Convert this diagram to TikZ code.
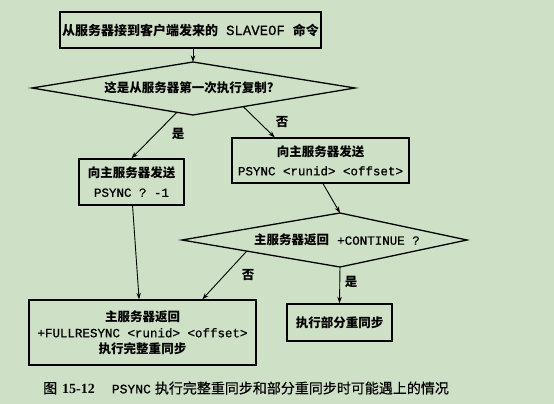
\documentclass[tikz,border=0pt]{standalone}
\usepackage{fontspec}
\setmainfont{Liberation Serif}
\newfontfamily\cjk{Noto Sans CJK SC}
\newfontfamily\capf[FakeBold=0.5]{Noto Sans CJK SC}
\newfontfamily\mono[FakeBold=0.7]{Liberation Mono}
\usetikzlibrary{calc,arrows.meta}
\definecolor{bg}{RGB}{206,224,197}
\newcommand{\cb}[1]{{\cjk\bfseries #1}}
\newcommand{\mt}[1]{{\mono #1}}
\begin{document}
\begin{tikzpicture}[x=1pt,y=-1pt,
  box/.style={draw,line width=1.3pt,rectangle,inner sep=0pt,align=center,fill=none},
  arr/.style={line width=0.9pt,-{Stealth[length=6.5pt,width=4.5pt]}},
  dia/.style={line width=1.3pt},
  lbl/.style={font=\fontsize{12.5}{15}\selectfont\cjk\bfseries,inner sep=0pt},
  txt/.style={inner sep=0pt,align=center}]
\fill[bg] (0,0) rectangle (554,404);
\useasboundingbox (0,0) rectangle (554,404);
% boxes
\node[box,minimum width=261pt,minimum height=36pt,font=\fontsize{13}{16}\selectfont] (top) at (190.5,30)
  {\cb{从服务器接到客户端发来的}\hspace{8pt}{\fontsize{14}{16}\selectfont\mt{SLAVEOF}}\hspace{8pt}\cb{命令}};
\node[box,minimum width=105pt,minimum height=46pt,font=\fontsize{12.5}{19}\selectfont] (lb) at (131.5,182)
  {\cb{向主服务器发送}\\\mt{PSYNC ? -1}};
\node[box,minimum width=177pt,minimum height=45pt,font=\fontsize{12.5}{19}\selectfont] (rb) at (320.5,160.5)
  {\cb{向主服务器发送}\\\mt{PSYNC <runid> <offset>}};
\node[box,minimum width=227pt,minimum height=65pt,font=\fontsize{12.5}{16}\selectfont] (bl) at (142.5,332.5)
  {\cb{主服务器返回}\\\mt{+FULLRESYNC <runid> <offset>}\\\cb{执行完整重同步}};
\node[box,minimum width=105pt,minimum height=37pt,font=\fontsize{12.5}{16}\selectfont] (br) at (339.5,322.5)
  {\cb{执行部分重同步}};
% diamond 1
\coordinate (d1l) at (32,88);
\coordinate (d1t) at (193,62);
\coordinate (d1r) at (355,88);
\coordinate (d1b) at (193,115);
\draw[dia] (d1l) -- (d1t) -- (d1r) -- (d1b) -- cycle;
\node[txt,font=\fontsize{12.5}{15}\selectfont] (q1) at (189,88) {\cb{这是从服务器第一次执行复制?}};
% diamond 2
\coordinate (d2l) at (182,240);
\coordinate (d2t) at (340,213);
\coordinate (d2r) at (467,240);
\coordinate (d2b) at (340,267);
\draw[dia] (d2l) -- (d2t) -- (d2r) -- (d2b) -- cycle;
\node[txt,font=\fontsize{12.5}{15}\selectfont] (q2) at (337,240) {\cb{主服务器返回}\hspace{8pt}\mt{+CONTINUE ?}};
% connectors
\draw[arr] (d1t |- top.south) -- (d1t);
\draw[arr] ($(d1l)!0.9!(d1b)$) -- (lb.north);
\draw[arr] ($(d1b)!0.31!(d1r)$) -- ($(rb.north west)!0.243!(rb.north east)$);
\draw[arr] ($(rb.south west)!0.514!(rb.south east)$) -- (d2t);
\draw[arr] ($(lb.south west)!0.51!(lb.south east)$) -- ($(bl.north west)!0.485!(bl.north east)$);
\draw[arr] ($(d2l)!0.41!(d2b)$) -- ($(bl.north west)!0.762!(bl.north east)$);
\draw[arr] (d2b) -- (br.north);
% labels
\node[lbl] (yes1) at (178,134) {是};
\node[lbl] (no1) at (282,122) {否};
\node[lbl] (no2) at (248,275) {否};
\node[lbl] (yes2) at (351,282) {是};
% caption
\node[inner sep=0pt,anchor=west,font=\fontsize{14}{16}\selectfont] (cap) at (43,388)
  {{\capf 图}\hspace{5pt}{\bfseries 15-12}\hspace{17pt}{\fontsize{13}{16}\selectfont\mt{PSYNC}}\hspace{4pt}{\capf 执行完整重同步和部分重同步时可能遇上的情况}};
\end{tikzpicture}
\end{document}
